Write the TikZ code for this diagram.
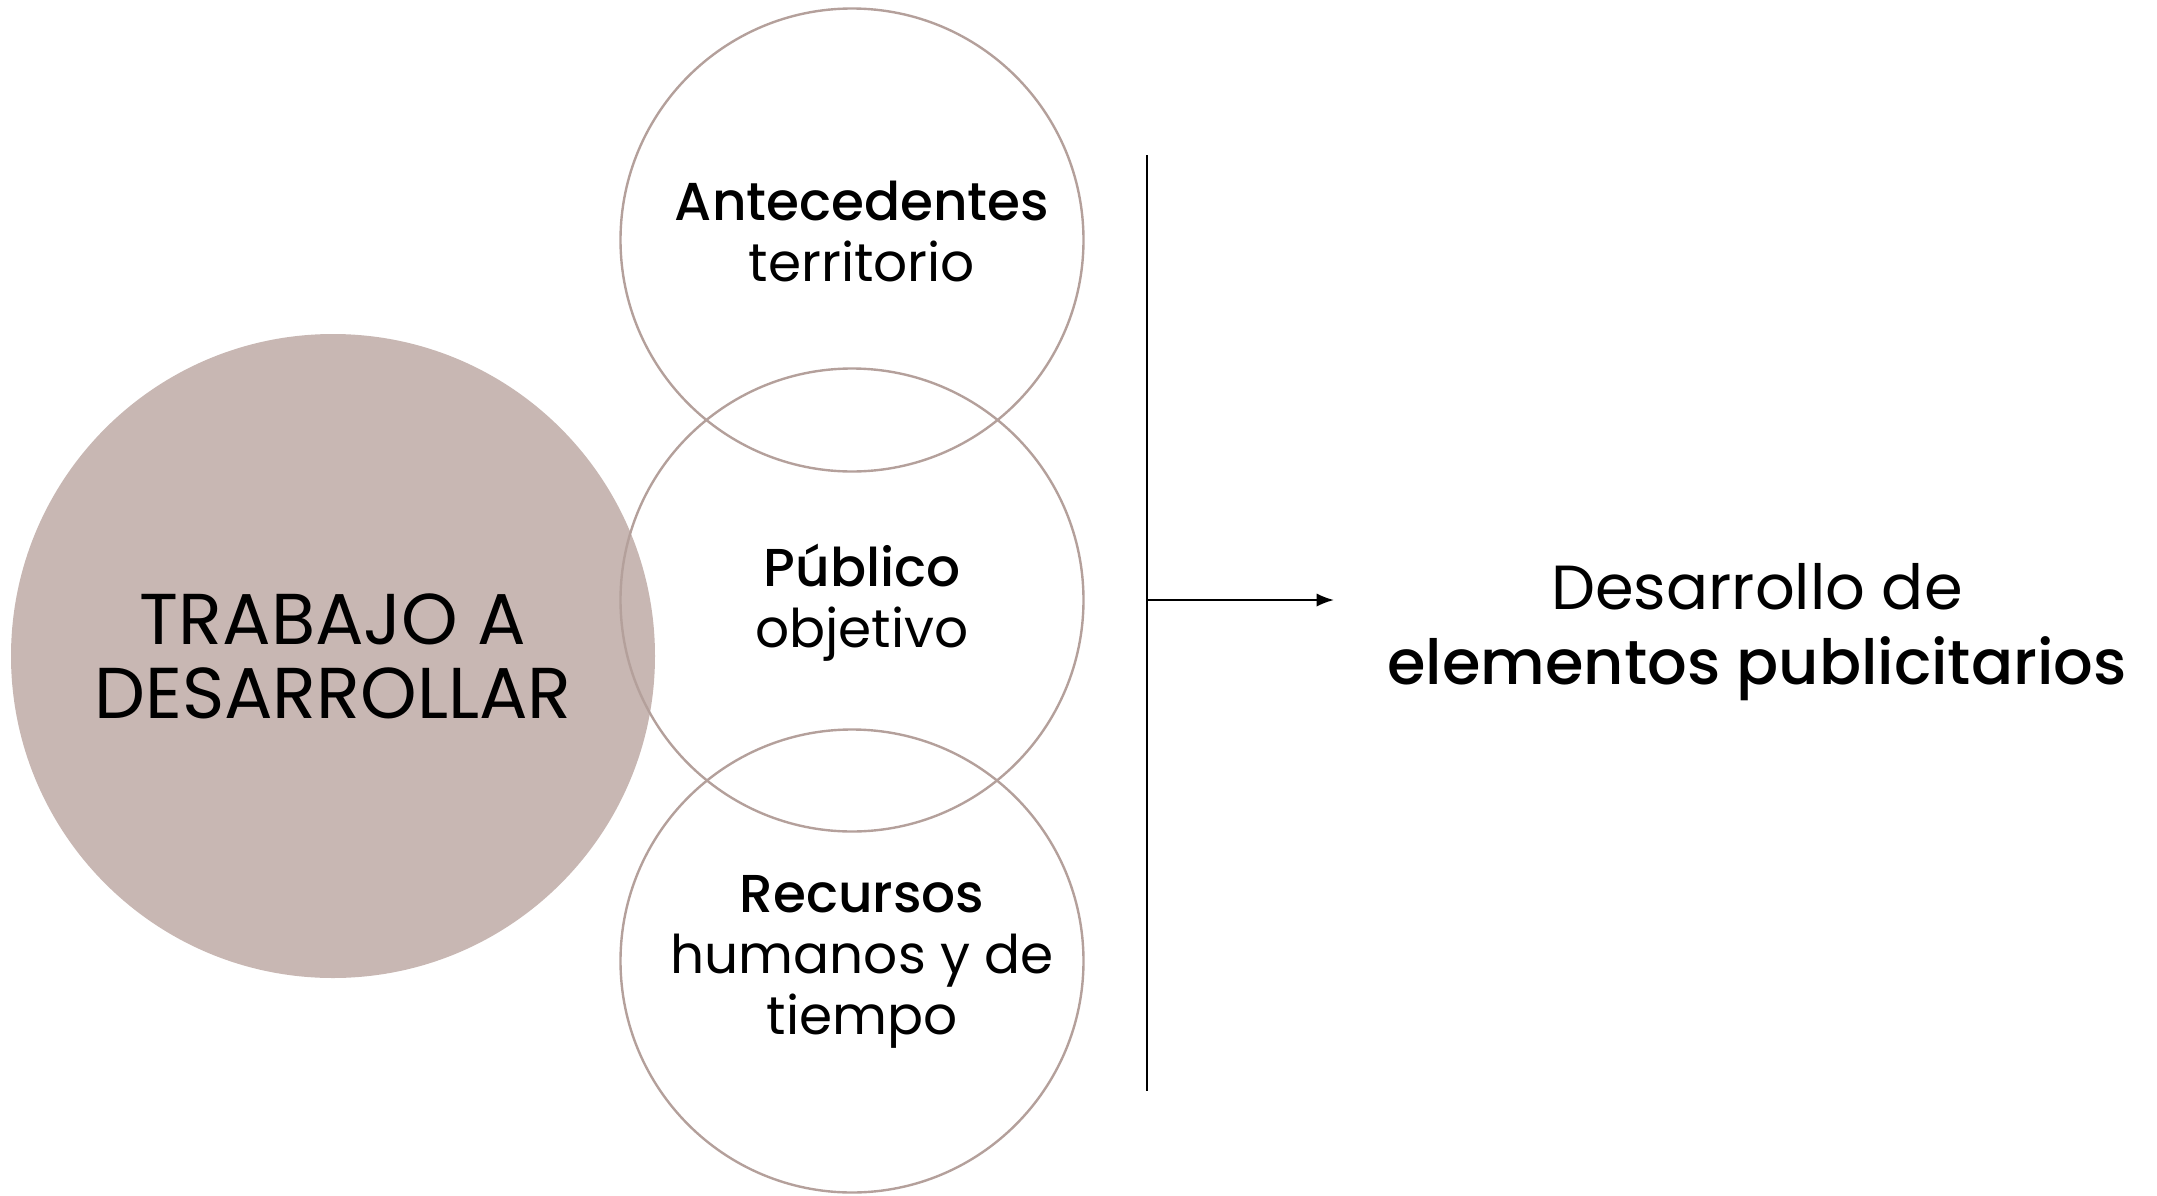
\documentclass[tikz,border=0pt]{standalone}
\usepackage{fontspec}
\setmainfont{Poppins}[BoldFont={Poppins Medium}]
\usetikzlibrary{arrows.meta}

\definecolor{taupe}{RGB}{200,183,179}
\definecolor{ringline}{RGB}{180,160,155}

\tikzset{every picture/.style={line width=0.75pt}}
\tikzset{
  ring/.style={circle, draw=ringline, line width=1.8pt, minimum size=347.25pt, inner sep=0pt},
  ringtext/.style={align=center, inner sep=0pt, font=\fontsize{40}{45.75}\selectfont},
  bigtext/.style={align=center, inner sep=0pt, font=\fontsize{54}{55.5}\selectfont},
}

\begin{document}
\begin{tikzpicture}[x=0.75pt,y=0.75pt,yscale=-1,xscale=1]
	\useasboundingbox (0,0) rectangle (2157,1196);

	%Shape: Circle [big]
	\node (trabajo) [circle, fill=taupe, minimum size=483pt, inner sep=0pt] at (333,656) {};
	%Shape: Circle [top, middle, bottom]
	\node (antec) [ring] at (852,240) {};
	\node (publico) [ring] at (852,600) {};
	\node (recursos) [ring] at (852,961) {};

	%Straight Lines
	\coordinate (bartop) at (1147,155);
	\coordinate (barbot) at (1147,1091);
	\coordinate (barmid) at (1147,600);
	\coordinate (tip) at (1334,600);
	\draw [line width=1.4pt] (bartop) -- (barbot);
	\draw [line width=1.6pt, -{Latex[length=13pt,width=10pt]}] (barmid) -- (tip);

	% Text Node
	\node (trabajotxt) [bigtext, anchor=base] at (333,718) {TRABAJO A\\DESARROLLAR};
	% Text Node
	\node (antectxt) [ringtext, anchor=base] at (862,281) {\textbf{Antecedentes}\\territorio};
	% Text Node
	\node (publicotxt) [ringtext, anchor=base] at (862,647) {\textbf{Público}\\objetivo};
	% Text Node
	\node (recursostxt) [ringtext, anchor=base] at (862,1034) {\textbf{Recursos}\\humanos y de\\tiempo};
	% Text Node
	\node (resultado) [bigtext, anchor=base, font=\fontsize{46.7}{56}\selectfont] at (1757,684) {Desarrollo de\\\textbf{elementos publicitarios}};

\end{tikzpicture}
\end{document}
